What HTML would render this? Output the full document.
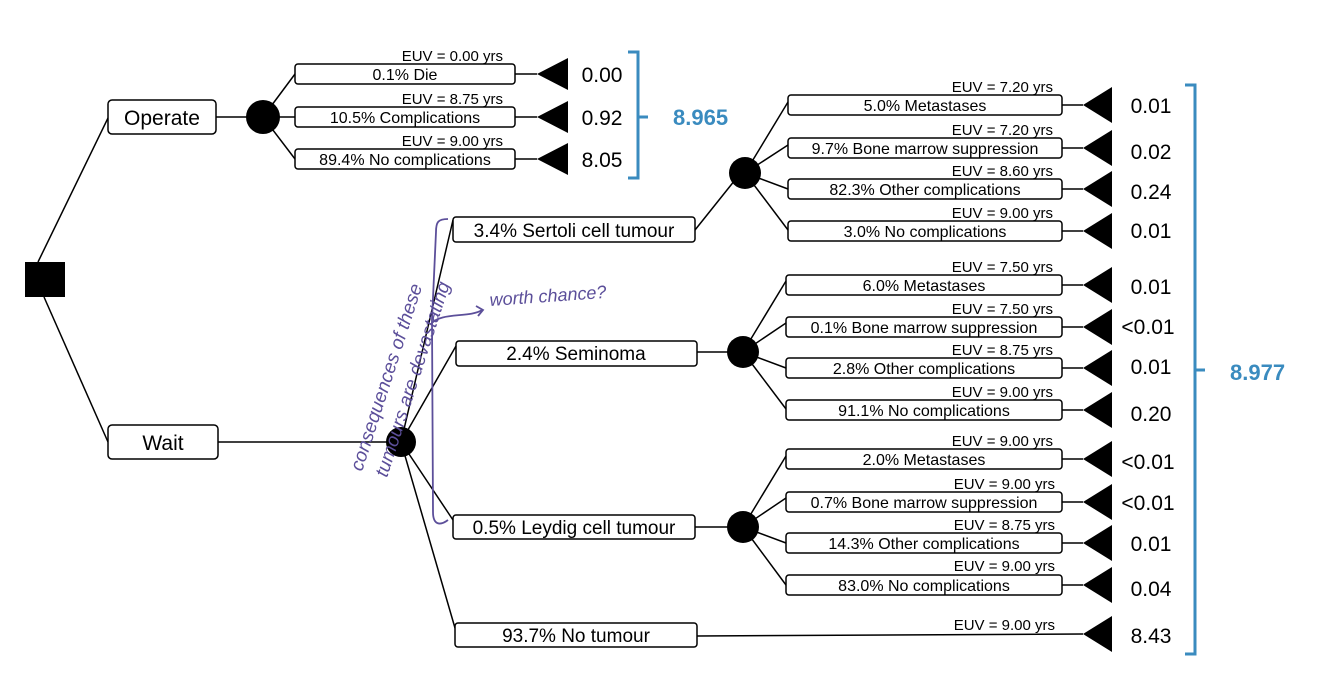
<!DOCTYPE html>
<html><head><meta charset="utf-8"><style>
html,body{margin:0;padding:0;background:#fff;}
svg{display:block;font-family:"Liberation Sans",sans-serif;}
</style></head><body>
<svg width="1334" height="691" viewBox="0 0 1334 691" xmlns="http://www.w3.org/2000/svg">
<g stroke="#000" stroke-width="1.5" fill="none">
<line x1="38" y1="262" x2="108" y2="118"/>
<line x1="44" y1="297" x2="108" y2="442"/>
<line x1="216" y1="117" x2="250" y2="117"/>
<line x1="263" y1="117" x2="295" y2="74"/>
<line x1="263" y1="117" x2="295" y2="117"/>
<line x1="263" y1="117" x2="295" y2="159"/>
<line x1="515" y1="74" x2="537" y2="74"/>
<line x1="515" y1="117" x2="537" y2="117"/>
<line x1="515" y1="159" x2="537" y2="159"/>
<line x1="218" y1="442" x2="390" y2="442"/>
<line x1="401" y1="442" x2="453" y2="220"/>
<line x1="401" y1="442" x2="456" y2="346"/>
<line x1="401" y1="442" x2="453" y2="520"/>
<line x1="401" y1="442" x2="455" y2="628"/>
<line x1="695" y1="230" x2="735" y2="180"/>
<line x1="697" y1="352" x2="730" y2="352"/>
<line x1="695" y1="527" x2="730" y2="527"/>
<line x1="697" y1="636" x2="1083" y2="634"/>
<line x1="745" y1="173" x2="788" y2="102"/>
<line x1="745" y1="173" x2="788" y2="145"/>
<line x1="745" y1="173" x2="788" y2="189"/>
<line x1="745" y1="173" x2="788" y2="230"/>
<line x1="743" y1="352" x2="786" y2="281"/>
<line x1="743" y1="352" x2="786" y2="323"/>
<line x1="743" y1="352" x2="786" y2="368"/>
<line x1="743" y1="352" x2="786" y2="409"/>
<line x1="743" y1="527" x2="786" y2="456"/>
<line x1="743" y1="527" x2="786" y2="498"/>
<line x1="743" y1="527" x2="786" y2="543"/>
<line x1="743" y1="527" x2="786" y2="585"/>
</g>
<rect x="25" y="262" width="40" height="35" fill="#000"/>
<g fill="#fff" stroke="#000" stroke-width="1.5">
<rect x="108" y="100" width="108" height="34" rx="4"/>
<rect x="108" y="425" width="110" height="34" rx="4"/>
<rect x="295" y="64" width="220" height="20" rx="3"/>
<rect x="295" y="107" width="220" height="20" rx="3"/>
<rect x="295" y="149" width="220" height="20" rx="3"/>
<rect x="453" y="217" width="242" height="25" rx="3"/>
<rect x="456" y="341" width="241" height="25" rx="3"/>
<rect x="453" y="515" width="242" height="24" rx="3"/>
<rect x="455" y="623" width="242" height="24" rx="3"/>
</g>
<g fill="#000">
<circle cx="263" cy="117" r="17"/>
<circle cx="401" cy="442" r="15"/>
<circle cx="745" cy="173" r="16"/>
<circle cx="743" cy="352" r="16"/>
<circle cx="743" cy="527" r="16"/>
<polygon points="537,74 568,58 568,90"/>
<polygon points="537,117 568,101 568,133"/>
<polygon points="537,159 568,143 568,175"/>
</g>
<g font-size="21" text-anchor="middle">
<text x="162" y="125">Operate</text>
<text x="163" y="450">Wait</text>
</g>
<g font-size="16" text-anchor="middle">
<text x="405" y="80">0.1% Die</text>
<text x="405" y="123">10.5% Complications</text>
<text x="405" y="165">89.4% No complications</text>
</g>
<g font-size="15" text-anchor="end">
<text x="503" y="61">EUV = 0.00 yrs</text>
<text x="503" y="104">EUV = 8.75 yrs</text>
<text x="503" y="146">EUV = 9.00 yrs</text>
</g>
<g font-size="21" text-anchor="middle">
<text x="602" y="82">0.00</text>
<text x="602" y="125">0.92</text>
<text x="602" y="167">8.05</text>
</g>
<g font-size="19" text-anchor="middle">
<text x="574" y="237">3.4% Sertoli cell tumour</text>
<text x="576" y="360">2.4% Seminoma</text>
<text x="574" y="534">0.5% Leydig cell tumour</text>
<text x="576" y="642">93.7% No tumour</text>
</g>
<g fill="#fff" stroke="#000" stroke-width="1.5">
<rect x="788" y="95" width="274" height="20" rx="3"/>
<rect x="788" y="138" width="274" height="20" rx="3"/>
<rect x="788" y="179" width="274" height="20" rx="3"/>
<rect x="788" y="221" width="274" height="20" rx="3"/>
<rect x="786" y="275" width="276" height="20" rx="3"/>
<rect x="786" y="317" width="276" height="20" rx="3"/>
<rect x="786" y="358" width="276" height="20" rx="3"/>
<rect x="786" y="400" width="276" height="20" rx="3"/>
<rect x="786" y="449" width="276" height="20" rx="3"/>
<rect x="786" y="492" width="276" height="20" rx="3"/>
<rect x="786" y="533" width="276" height="20" rx="3"/>
<rect x="786" y="575" width="276" height="20" rx="3"/>
</g>
<g stroke="#000" stroke-width="1.5">
<line x1="1062" y1="105" x2="1083" y2="105"/>
<line x1="1062" y1="148" x2="1083" y2="148"/>
<line x1="1062" y1="189" x2="1083" y2="189"/>
<line x1="1062" y1="231" x2="1083" y2="231"/>
<line x1="1062" y1="285" x2="1083" y2="285"/>
<line x1="1062" y1="327" x2="1083" y2="327"/>
<line x1="1062" y1="368" x2="1083" y2="368"/>
<line x1="1062" y1="410" x2="1083" y2="410"/>
<line x1="1062" y1="459" x2="1083" y2="459"/>
<line x1="1062" y1="502" x2="1083" y2="502"/>
<line x1="1062" y1="543" x2="1083" y2="543"/>
<line x1="1062" y1="585" x2="1083" y2="585"/>
</g>
<g fill="#000">
<polygon points="1083,105 1112,87 1112,123"/>
<polygon points="1083,148 1112,130 1112,166"/>
<polygon points="1083,189 1112,171 1112,207"/>
<polygon points="1083,231 1112,213 1112,249"/>
<polygon points="1083,285 1112,267 1112,303"/>
<polygon points="1083,327 1112,309 1112,345"/>
<polygon points="1083,368 1112,350 1112,386"/>
<polygon points="1083,410 1112,392 1112,428"/>
<polygon points="1083,459 1112,441 1112,477"/>
<polygon points="1083,502 1112,484 1112,520"/>
<polygon points="1083,543 1112,525 1112,561"/>
<polygon points="1083,585 1112,567 1112,603"/>
<polygon points="1083,634 1112,616 1112,652"/>
</g>
<g font-size="16" text-anchor="middle">
<text x="925" y="111">5.0% Metastases</text>
<text x="925" y="154">9.7% Bone marrow suppression</text>
<text x="925" y="195">82.3% Other complications</text>
<text x="925" y="237">3.0% No complications</text>
<text x="924" y="291">6.0% Metastases</text>
<text x="924" y="333">0.1% Bone marrow suppression</text>
<text x="924" y="374">2.8% Other complications</text>
<text x="924" y="416">91.1% No complications</text>
<text x="924" y="465">2.0% Metastases</text>
<text x="924" y="508">0.7% Bone marrow suppression</text>
<text x="924" y="549">14.3% Other complications</text>
<text x="924" y="591">83.0% No complications</text>
</g>
<g font-size="15" text-anchor="end">
<text x="1053" y="92">EUV = 7.20 yrs</text>
<text x="1053" y="135">EUV = 7.20 yrs</text>
<text x="1053" y="176">EUV = 8.60 yrs</text>
<text x="1053" y="218">EUV = 9.00 yrs</text>
<text x="1053" y="272">EUV = 7.50 yrs</text>
<text x="1053" y="314">EUV = 7.50 yrs</text>
<text x="1053" y="355">EUV = 8.75 yrs</text>
<text x="1053" y="397">EUV = 9.00 yrs</text>
<text x="1053" y="446">EUV = 9.00 yrs</text>
<text x="1055" y="489">EUV = 9.00 yrs</text>
<text x="1055" y="530">EUV = 8.75 yrs</text>
<text x="1055" y="571">EUV = 9.00 yrs</text>
<text x="1055" y="630">EUV = 9.00 yrs</text>
</g>
<g font-size="21" text-anchor="middle">
<text x="1151" y="113">0.01</text>
<text x="1151" y="159">0.02</text>
<text x="1151" y="199">0.24</text>
<text x="1151" y="238">0.01</text>
<text x="1151" y="294">0.01</text>
<text x="1148" y="334">&lt;0.01</text>
<text x="1151" y="374">0.01</text>
<text x="1151" y="421">0.20</text>
<text x="1148" y="469">&lt;0.01</text>
<text x="1148" y="510">&lt;0.01</text>
<text x="1151" y="551">0.01</text>
<text x="1151" y="596">0.04</text>
<text x="1151" y="643">8.43</text>
</g>
<g stroke="#3a8bbf" stroke-width="3" fill="none">
<path d="M628,52 H638 V178 H628 M638,117 H648"/>
<path d="M1185,85 H1195 V654 H1185 M1195,370 H1205"/>
</g>
<g fill="#3a8bbf" font-size="22" font-weight="bold">
<text x="673" y="125">8.965</text>
<text x="1230" y="380">8.977</text>
</g>
<g stroke="#5c4f9a" stroke-width="1.8" fill="none">
<path d="M448,219 C438,219 436,222 436,232 L432,320 L433,512 C433,525 440,526 448,520"/>
<path d="M431,324 C440,312 470,318 482,310"/>
<path d="M476,306 L483,310 L478,316"/>
</g>
<g fill="#5c4f9a" font-style="italic">
<text x="490" y="306" font-size="18" transform="rotate(-4 490 306)">worth chance?</text>
<text transform="translate(362,472) rotate(-72)" font-size="19">consequences of these</text>
<text transform="translate(387,478) rotate(-72)" font-size="19">tumours are devastating</text>
</g>
</svg>
</body></html>
